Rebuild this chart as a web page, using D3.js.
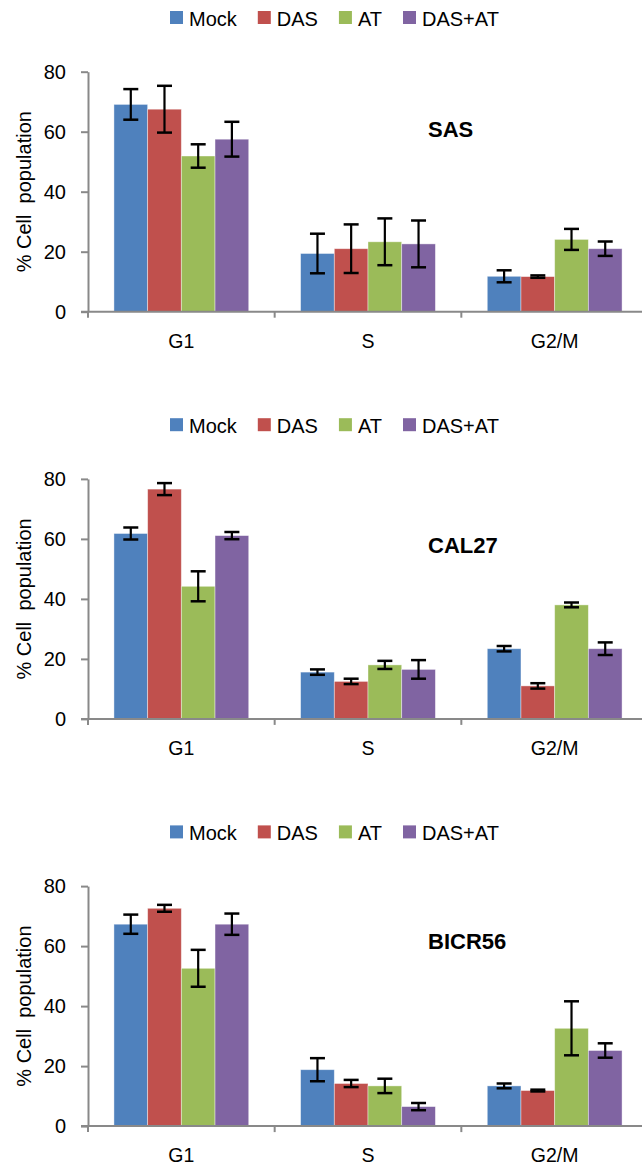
<!DOCTYPE html>
<html>
<head>
<meta charset="utf-8">
<script src="https://cdn.jsdelivr.net/npm/d3@7"></script>
<style>
  body { margin: 0; background: #fff; }
  svg { display: block; }
  text { font-family: "Liberation Sans", Arial, sans-serif; fill: #000; }
</style>
</head>
<body>
<div id="chart"></div>
<script>
// data
var categories = ["G1", "S", "G2/M"];
var series = ["Mock", "DAS", "AT", "DAS+AT"];
var colors = ["#4F81BD", "#C0504D", "#9BBB59", "#8064A2"];
var panels = ["SAS", "CAL27", "BICR56"];
var yTicks = [0, 20, 40, 60, 80];

// mean values, one row per series (G1, S, G2/M)
var sasMean = [[69.1, 19.4, 11.8], [67.5, 21.0, 11.7], [51.9, 23.3, 24.1], [57.5, 22.6, 21.0]];
var sasErr = [[5.1, 6.6, 2.0], [7.8, 8.1, 0.4], [3.9, 7.8, 3.5], [5.8, 7.8, 2.4]];

var calMean = [[61.8, 15.6, 23.4], [76.6, 12.5, 11.0], [44.2, 18.0, 38.0], [61.1, 16.5, 23.4]];
var calErr = [[2.0, 0.9, 0.9], [2.0, 0.9, 0.9], [5.0, 1.35, 0.8], [1.2, 3.1, 2.1]];

var bicMean = [[67.3, 18.8, 13.4], [72.6, 14.2, 11.85], [52.6, 13.4, 32.6], [67.3, 6.5, 25.2]];
var bicErr = [[3.2, 3.85, 0.8], [1.15, 1.2, 0.3], [6.15, 2.4, 9.0], [3.55, 1.2, 2.4]];

var means = [sasMean, calMean, bicMean];
var errs = [sasErr, calErr, bicErr];

var svgWidth = 642;
var svgHeight = 1166;

var svg = d3.select("#chart")
  .append("svg")
  .attr("width", svgWidth)
  .attr("height", svgHeight);

var axisColor = "#898989";
var left = 88, right = 648;
var plotHeight = 240;
var firstZero = 311.7;
var panelStep = 407.2;
var titleY = [137, 553, 949];

var x0 = d3.scaleBand().domain(categories).range([left, right]);
var x1 = d3.scaleBand().domain(series).range([0, x0.bandwidth()]).paddingOuter(0.77);
var color = d3.scaleOrdinal().domain(series).range(colors);

panels.forEach(function(name, p) {
  var zero = firstZero + p * panelStep;
  var y = d3.scaleLinear().domain([0, 80]).range([zero, zero - plotHeight]);
  var g = svg.append("g");

  // legend
  var legendY = zero - 285.7;
  var lx = 170;
  series.forEach(function(s) {
    g.append("rect")
      .attr("x", lx).attr("y", legendY - 15)
      .attr("width", 13).attr("height", 13)
      .attr("fill", color(s));
    var t = g.append("text")
      .attr("x", lx + 19).attr("y", legendY)
      .style("font-size", "20px")
      .text(s);
    lx += 19 + t.node().getComputedTextLength() + 21;
  });

  // title
  g.append("text")
    .attr("x", 428).attr("y", titleY[p])
    .style("font-size", "22px")
    .style("font-weight", "bold")
    .text(name);

  // bars
  var rows = [];
  series.forEach(function(s, i) {
    categories.forEach(function(c, j) {
      rows.push({ s: s, c: c, v: means[p][i][j], e: errs[p][i][j] });
    });
  });

  g.selectAll("rect.bar")
    .data(rows)
    .enter()
    .append("rect")
    .attr("class", "bar")
    .attr("x", d => x0(d.c) + x1(d.s))
    .attr("y", d => y(d.v))
    .attr("width", x1.bandwidth())
    .attr("height", d => zero - y(d.v))
    .attr("fill", d => color(d.s))
    .attr("stroke", "#ffffff")
    .attr("stroke-opacity", 0.5)
    .attr("stroke-width", 0.8);

  // error bars
  var eb = g.selectAll("g.err")
    .data(rows)
    .enter()
    .append("g")
    .attr("class", "err")
    .attr("stroke", "#000")
    .attr("stroke-width", 2.2);
  eb.append("line")
    .attr("x1", d => x0(d.c) + x1(d.s) + x1.bandwidth() / 2)
    .attr("x2", d => x0(d.c) + x1(d.s) + x1.bandwidth() / 2)
    .attr("y1", d => y(d.v + d.e))
    .attr("y2", d => y(d.v - d.e));
  eb.selectAll("line.cap")
    .data(d => [d.v + d.e, d.v - d.e].map(v => ({ d: d, v: v })))
    .enter()
    .append("line")
    .attr("class", "cap")
    .attr("x1", k => x0(k.d.c) + x1(k.d.s) + x1.bandwidth() / 2 - 7.5)
    .attr("x2", k => x0(k.d.c) + x1(k.d.s) + x1.bandwidth() / 2 + 7.5)
    .attr("y1", k => y(k.v))
    .attr("y2", k => y(k.v))
    .attr("stroke-width", 2.5);

  // y axis
  var yAxis = g.append("g")
    .attr("transform", `translate(${left},0)`)
    .call(d3.axisLeft(y).tickValues(yTicks).tickSize(7).tickPadding(15).tickSizeOuter(0));
  yAxis.select(".domain").attr("stroke", axisColor).attr("stroke-width", 2);
  yAxis.selectAll(".tick line").attr("stroke", axisColor).attr("stroke-width", 2);
  yAxis.selectAll(".tick text")
    .style("font-size", "20px")
    .style("font-family", "'Liberation Sans', Arial, sans-serif")
    .attr("fill", "#000");

  // x axis: line, boundary ticks, centred labels
  var xAxis = g.append("g")
    .attr("transform", `translate(0,${zero})`)
    .call(d3.axisBottom(x0).tickSize(0).tickPadding(22).tickSizeOuter(0));
  xAxis.select(".domain").remove();
  xAxis.selectAll(".tick text")
    .style("font-size", "19.5px")
    .style("font-family", "'Liberation Sans', Arial, sans-serif")
    .attr("fill", "#000");
  xAxis.append("line")
    .attr("x1", left - 7).attr("x2", right)
    .attr("stroke", axisColor).attr("stroke-width", 2);
  xAxis.selectAll("line.bound")
    .data(categories.map(c => x0(c)).concat([right]))
    .enter()
    .append("line")
    .attr("class", "bound")
    .attr("x1", d => d).attr("x2", d => d)
    .attr("y1", 0).attr("y2", 6)
    .attr("stroke", axisColor).attr("stroke-width", 2);

  // y label
  g.append("text")
    .attr("transform", `translate(31,${zero - plotHeight / 2}) rotate(-90)`)
    .attr("text-anchor", "middle")
    .style("font-size", "20px")
    .style("white-space", "pre")
    .text("% Cell  population");
});
</script>
</body>
</html>
